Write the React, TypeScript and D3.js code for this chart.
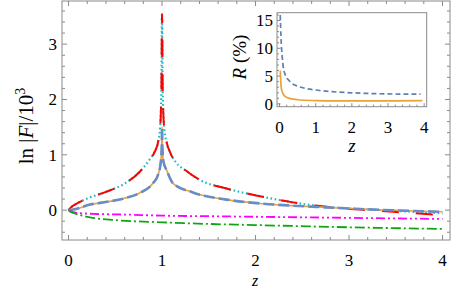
import React from "react";
import * as d3 from "d3";

// main panel: ln|F|/10^3 against z
const redZ = [0, 0.02, 0.1, 0.2, 0.4, 0.6, 0.76, 0.87, 0.92, 0.96, 0.98, 0.993, 1.0, 1.007, 1.02, 1.05, 1.085, 1.15, 1.25, 1.41, 1.69, 2.05, 2.4, 2.76, 3.12, 3.47, 4.0];
const redV = [0, 0.04, 0.13, 0.21, 0.33, 0.48, 0.69, 0.92, 1.05, 1.25, 1.5, 2.2, 3.55, 2.2, 1.55, 1.22, 1.05, 0.86, 0.72, 0.54, 0.39, 0.25, 0.14, 0.06, 0.01, -0.03, -0.09];
const cyanV = [0, 0.04, 0.13, 0.21, 0.33, 0.48, 0.69, 0.92, 1.05, 1.25, 1.5, 2.2, 3.55, 2.2, 1.55, 1.22, 1.05, 0.86, 0.72, 0.54, 0.39, 0.25, 0.14, 0.06, 0.02, -0.01, -0.06];

const blueZ = [0, 0.05, 0.23, 0.41, 0.59, 0.76, 0.9, 0.96, 0.985, 0.997, 1.0, 1.003, 1.015, 1.05, 1.12, 1.33, 1.69, 2.05, 2.4, 2.76, 3.12, 4.0];
const blueV = [0, 0.01, 0.1, 0.15, 0.21, 0.31, 0.48, 0.65, 0.85, 1.15, 1.5, 1.15, 0.88, 0.72, 0.48, 0.32, 0.19, 0.12, 0.08, 0.05, 0.02, -0.03];

const magZ = [0, 0.02, 0.1, 0.3, 0.6, 1.0, 1.5, 2.0, 3.0, 4.0];
const magV = [0, -0.02, -0.05, -0.07, -0.08, -0.1, -0.11, -0.12, -0.14, -0.16];

const greenZ = [0, 0.02, 0.05, 0.23, 0.5, 1.0, 1.5, 2.0, 3.0, 4.0];
const greenV = [0, -0.03, -0.05, -0.13, -0.18, -0.22, -0.25, -0.27, -0.31, -0.34];

const xTicks = [0, 1, 2, 3, 4];
const yTicks = [0, 1, 2, 3];

// inset: R (%) against z
const insetBlueZ = [0.02, 0.04, 0.07, 0.1, 0.16, 0.25, 0.34, 0.5, 0.71, 1.0, 1.45, 2.0, 2.36, 3.0, 3.9];
const insetBlueV = [16, 12, 8.8, 6.8, 5.2, 4.3, 3.7, 3.2, 2.8, 2.5, 2.2, 2.0, 1.9, 1.8, 1.75];
const insetOrangeZ = [0.02, 0.035, 0.05, 0.1, 0.16, 0.3, 0.5, 1.0, 1.45, 2.0, 3.0, 3.95];
const insetOrangeV = [6.0, 4.0, 2.8, 1.8, 1.3, 0.95, 0.75, 0.6, 0.55, 0.55, 0.55, 0.6];
const insetXTicks = [0, 1, 2, 3, 4];
const insetYTicks = [0, 5, 10, 15];

const font = "'Times New Roman', 'Liberation Serif', 'DejaVu Serif', serif";
const frameColor = "#8a8a8a";

const zip = (zs: number[], vs: number[]) => zs.map((z, i) => [z, vs[i]] as [number, number]);

export default function App() {
  const W = 460;
  const H = 291;

  // main scales
  const x = d3.scaleLinear().domain([-0.07, 4.08]).range([62, 450]);
  const y = d3.scaleLinear().domain([-0.54, 3.78]).range([240, 1]);
  const line = d3
    .line<[number, number]>()
    .x((d) => x(d[0]))
    .y((d) => y(d[1]))
    .curve(d3.curveMonotoneX);

  // inset scales
  const ix = d3.scaleLinear().domain([-0.07, 4.07]).range([277, 426.7]);
  const iy = d3.scaleLinear().domain([-0.5, 16.4]).range([106.7, 12.7]);
  const iline = d3
    .line<[number, number]>()
    .x((d) => ix(d[0]))
    .y((d) => iy(d[1]))
    .curve(d3.curveMonotoneX);

  const xMinor = d3.range(0, 4.01, 0.2);
  const yMinor = d3.range(-0.4, 3.61, 0.2);
  const ixMinor = d3.range(0, 4.01, 0.2);
  const iyMinor = d3.range(0, 16.01, 1);

  const [x0, x1] = x.range();
  const [y0, y1] = y.range();
  const [ix0, ix1] = ix.range();
  const [iy0, iy1] = iy.range();

  const isMajor = (v: number, list: number[]) => list.some((t) => Math.abs(t - v) < 1e-6);
  const txt = { fontFamily: font };

  return (
    <svg width={W} height={H} style={{ position: "absolute", left: 0, top: 0, fontFamily: font }}>
      <rect x={0} y={0} width={W} height={H} fill="white" />

      {/* main frame ticks, on all four sides */}
      <g stroke={frameColor} strokeWidth={1}>
        {xMinor.map((t, i) => {
          const len = isMajor(t, xTicks) ? 5 : 3;
          return (
            <g key={"xt" + i}>
              <line x1={x(t)} x2={x(t)} y1={y0} y2={y0 - len} />
              <line x1={x(t)} x2={x(t)} y1={y1} y2={y1 + len} />
            </g>
          );
        })}
        {yMinor.map((t, i) => {
          const len = isMajor(t, yTicks) ? 5 : 3;
          return (
            <g key={"yt" + i}>
              <line x1={x0} x2={x0 + len} y1={y(t)} y2={y(t)} />
              <line x1={x1} x2={x1 - len} y1={y(t)} y2={y(t)} />
            </g>
          );
        })}
      </g>

      {/* main curves */}
      <g fill="none">
        <path d={line(zip(redZ, cyanV)) ?? ""} stroke="#22b8c2" strokeWidth={2.2} strokeDasharray="1.6,2.6" />
        <path d={line(zip(redZ, redV)) ?? ""} stroke="#ff0000" strokeWidth={2} strokeDasharray="17,17" />
        <path d={line(zip(blueZ, blueV)) ?? ""} stroke="#e8a33a" strokeWidth={1.6} />
        <path d={line(zip(blueZ, blueV)) ?? ""} stroke="#6a8cc6" strokeWidth={2.6} strokeDasharray="11,4" />
        <path d={line(zip(magZ, magV)) ?? ""} stroke="#ff00ff" strokeWidth={1.8} strokeDasharray="9,3,2,3,2,3" />
        <path d={line(zip(greenZ, greenV)) ?? ""} stroke="#11a611" strokeWidth={1.8} strokeDasharray="10,3,2,3" />
      </g>

      <rect x={x0} y={y1} width={x1 - x0} height={y0 - y1} fill="none" stroke={frameColor} strokeWidth={1} />

      {/* main tick labels */}
      <g fontSize={17} fill="black">
        {xTicks.map((t) => (
          <text key={"xl" + t} x={x(t)} y={266} textAnchor="middle" style={txt}>
            {t}
          </text>
        ))}
        {yTicks.map((t) => (
          <text key={"yl" + t} x={57} y={y(t)} dy="0.35em" textAnchor="end" style={txt}>
            {t}
          </text>
        ))}
      </g>

      {/* main axis labels */}
      <text x={255} y={286} fontSize={16} fontStyle="italic" textAnchor="middle" style={txt}>
        z
      </text>
      <text transform="translate(33,126) rotate(-90)" fontSize={21} textAnchor="middle" style={txt}>
        ln |<tspan fontStyle="italic">F</tspan>|/10
        <tspan fontSize={14} dy={-8}>
          3
        </tspan>
      </text>

      {/* inset */}
      <rect x={ix0} y={iy1} width={ix1 - ix0} height={iy0 - iy1} fill="white" />
      <g stroke={frameColor} strokeWidth={1}>
        {ixMinor.map((t, i) => {
          const len = isMajor(t, insetXTicks) ? 3.5 : 2;
          return <line key={"ixt" + i} x1={ix(t)} x2={ix(t)} y1={iy0} y2={iy0 - len} />;
        })}
        {iyMinor.map((t, i) => {
          const len = isMajor(t, insetYTicks) ? 3.5 : 2;
          return <line key={"iyt" + i} x1={ix0} x2={ix0 + len} y1={iy(t)} y2={iy(t)} />;
        })}
      </g>
      <g fill="none">
        <path d={iline(zip(insetOrangeZ, insetOrangeV)) ?? ""} stroke="#e8a33a" strokeWidth={1.7} />
        <path d={iline(zip(insetBlueZ, insetBlueV)) ?? ""} stroke="#5e81b5" strokeWidth={1.7} strokeDasharray="5,3" />
      </g>
      <rect x={ix0} y={iy1} width={ix1 - ix0} height={iy0 - iy1} fill="none" stroke={frameColor} strokeWidth={1} />

      <g fontSize={17} fill="black">
        {insetXTicks.map((t) => (
          <text key={"ixl" + t} x={ix(t)} y={133} textAnchor="middle" style={txt}>
            {t}
          </text>
        ))}
        {insetYTicks.map((t) => (
          <text key={"iyl" + t} x={273} y={iy(t)} dy="0.35em" textAnchor="end" style={txt}>
            {t}
          </text>
        ))}
      </g>
      <text x={352} y={152} fontSize={19} fontStyle="italic" textAnchor="middle" style={txt}>
        z
      </text>
      <text transform="translate(246,57) rotate(-90)" fontSize={19} textAnchor="middle" style={txt}>
        <tspan fontStyle="italic">R</tspan> (%)
      </text>
    </svg>
  );
}
